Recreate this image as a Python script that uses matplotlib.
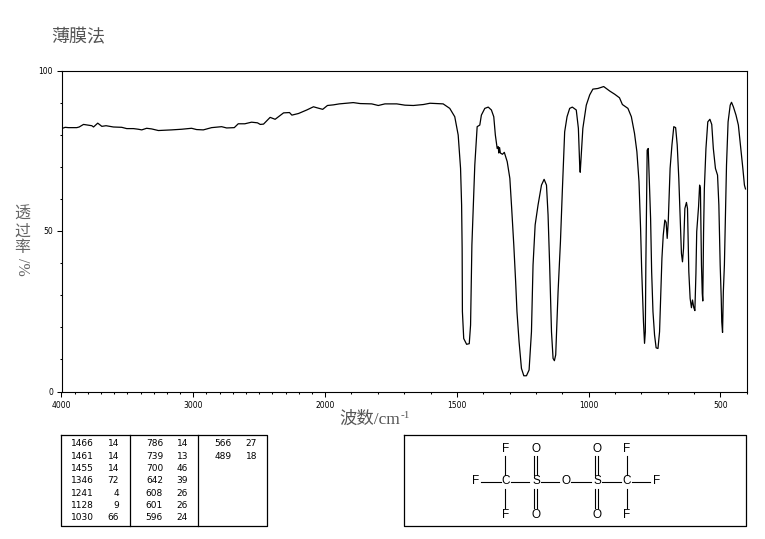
import numpy as np
import matplotlib
matplotlib.use("Agg")
import matplotlib.pyplot as plt

# =========================
# SPECTRUM (cm-1, %T)
# =========================
wavenumber = [
    4000, 3992, 3972, 3947, 3884, 3866, 3833, 3770, 3757, 3725, 3694, 3662, 3606, 3543, 3505, 3454,
    3417, 3391, 3354, 3316, 3265, 3215, 3164, 3088, 3013, 2975, 2924, 2861, 2785, 2747, 2689, 2659,
    2609, 2558, 2513, 2492, 2467, 2417, 2379, 2315, 2270, 2252, 2202, 2139, 2088, 2063, 2018, 1991,
    1968, 1946, 1893, 1867, 1823, 1798, 1773, 1728, 1697, 1665, 1627, 1602, 1552, 1527, 1508, 1495,
    1486, 1482, 1480, 1479, 1474, 1463, 1453, 1448, 1446, 1443, 1438, 1432, 1423, 1413, 1407, 1394,
    1381, 1369, 1360, 1354, 1347, 1343, 1341, 1338, 1335, 1327, 1320, 1309, 1299, 1292, 1284, 1277,
    1272, 1264, 1255, 1246, 1236, 1226, 1217, 1211, 1203, 1192, 1179, 1169, 1160, 1154, 1148, 1141,
    1135, 1130, 1125, 1116, 1107, 1100, 1091, 1082, 1072, 1062, 1047, 1039, 1034, 1032, 1028, 1022,
    1009, 996, 984, 965, 943, 920, 901, 883, 872, 851, 838, 826, 817, 809, 803, 799,
    795, 792, 788, 785, 783, 780, 778, 774, 770, 765, 761, 756, 750, 744, 737, 731,
    727, 722, 717, 711, 706, 702, 698, 694, 691, 684, 677, 670, 664, 658, 652, 648,
    644, 640, 635, 629, 625, 620, 615, 610, 606, 601, 597, 593, 590, 583, 579, 576,
    572, 569, 567, 564, 561, 555, 548, 540, 533, 527, 519, 511, 506, 501, 497, 495,
    492, 489, 485, 481, 477, 471, 463, 458, 451, 441, 432, 424, 415, 409, 405,
]
transmittance = [
    81.9, 82.0, 82.3, 82.2, 82.2, 82.4, 83.2, 82.8, 82.4, 83.6, 82.6, 82.8, 82.4, 82.3, 81.9, 81.9,
    81.7, 81.5, 82.0, 81.8, 81.3, 81.4, 81.5, 81.7, 82.0, 81.6, 81.5, 82.2, 82.5, 82.1, 82.2, 83.4,
    83.4, 83.9, 83.7, 83.2, 83.3, 85.4, 84.8, 86.8, 86.9, 86.1, 86.6, 87.7, 88.7, 88.4, 87.9, 89.1,
    89.3, 89.6, 90.0, 89.7, 89.6, 89.1, 89.6, 89.6, 89.2, 89.1, 89.4, 89.8, 89.6, 88.2, 85.6, 79.9,
    69.5, 58.1, 44.6, 24.9, 16.5, 14.7, 14.9, 20.7, 31.1, 45.6, 57.0, 70.5, 82.5, 83.0, 86.1, 88.2,
    88.6, 87.7, 85.6, 79.9, 75.7, 76.3, 74.3, 76.0, 74.3, 73.9, 74.5, 71.6, 66.4, 57.0, 45.6, 34.2,
    24.9, 15.5, 7.2, 4.9, 4.9, 6.7, 18.6, 39.4, 51.9, 58.1, 64.3, 66.1, 64.3, 55.0, 39.4, 18.6,
    10.3, 9.6, 11.4, 31.1, 46.7, 62.2, 80.9, 85.6, 88.2, 88.6, 87.7, 82.0, 70.5, 68.3, 73.7, 82.0,
    89.2, 92.4, 94.2, 94.4, 95.0, 93.6, 92.6, 91.5, 89.4, 88.2, 85.6, 80.4, 74.7, 65.4, 50.8, 38.4,
    29.0, 21.7, 15.0, 18.6, 39.4, 60.2, 75.2, 75.7, 65.9, 53.9, 37.3, 24.9, 17.6, 13.6, 13.4, 18.6,
    29.0, 41.5, 48.7, 53.4, 52.7, 47.7, 52.9, 62.2, 69.5, 76.8, 82.5, 82.2, 76.8, 66.4, 51.9, 43.0,
    40.4, 44.6, 57.0, 58.9, 57.0, 37.3, 29.0, 26.1, 28.5, 26.1, 25.2, 36.8, 49.8, 57.6, 64.3, 63.3,
    39.4, 30.6, 28.2, 49.8, 63.3, 75.7, 84.0, 84.8, 83.2, 75.7, 69.5, 67.4, 58.1, 39.4, 29.0, 21.7,
    18.4, 31.1, 39.4, 55.0, 70.5, 84.0, 89.2, 90.1, 88.7, 86.1, 83.0, 76.8, 69.5, 64.3, 63.1,
]

# =========================
# PEAK TABLE
# =========================
peak_columns = [
    [("1466", "14"), ("1461", "14"), ("1455", "14"), ("1346", "72"), ("1241", "4"), ("1128", "9"), ("1030", "66")],
    [("786", "14"), ("739", "13"), ("700", "46"), ("642", "39"), ("608", "26"), ("601", "26"), ("596", "24")],
    [("566", "27"), ("489", "18")],
]
x_major = [4000, 3000, 2000, 1500, 1000, 500]
y_major = [0, 50, 100]

W, H = 765, 539
CJK = "Noto Sans CJK SC"


# axis is compressed by 2 above 2000 cm-1
def forward(w):
    w = np.asarray(w, dtype=float)
    return np.where(w > 2000, 2000 + (w - 2000) / 2, w)


def inverse(v):
    v = np.asarray(v, dtype=float)
    return np.where(v > 2000, 2000 + (v - 2000) * 2, v)


fig = plt.figure(figsize=(W / 100, H / 100), dpi=100, facecolor="white")

# =========================
# MAIN AXES
# =========================
ax = fig.add_axes([61.5 / W, 1 - 391.5 / H, 685.3 / W, 321 / H])
ax.set_xscale("function", functions=(forward, inverse))
ax.plot(wavenumber, transmittance, color="black", linewidth=0.9)
ax.set_xlim(4000, 400)
ax.set_ylim(0, 100)

ax.set_xticks(x_major)
ax.set_xticks(list(range(4000, 300, -100)), minor=True)
ax.set_yticks(y_major)
ax.set_yticks(list(range(0, 101, 10)), minor=True)
ax.tick_params(which="major", length=3.6, width=0.75, labelsize=5.5, pad=2.5)
ax.tick_params(which="minor", length=1.6, width=0.75)
ax.tick_params(axis="x", which="major", pad=3.5)
for s in ax.spines.values():
    s.set_linewidth(0.8)

# =========================
# OVERLAY IN PIXEL UNITS
# =========================
ov = fig.add_axes([0, 0, 1, 1], facecolor="none")
ov.set_xlim(0, W)
ov.set_ylim(H, 0)
ov.axis("off")

ov.text(51, 37, "薄膜法", family=CJK, fontsize=13, color="#555555", va="center", ha="left")

# y label, characters stacked upright
ov.text(22, 231, "透\n过\n率", family=CJK, fontsize=11.5, color="#666666",
        va="center", ha="center", linespacing=0.95)
ov.text(22, 267, "/%", family="Liberation Serif", fontsize=11.5, color="#666666",
        rotation=-90, va="center", ha="center")

# x label
ov.text(339, 420, "波数/cm", family=["Liberation Serif", CJK], fontsize=12.5, color="#555555",
        va="center", ha="left")
ov.text(401, 415, "-1", family="Liberation Serif", fontsize=8, color="#555555", va="center", ha="left")

# peak table
ov.plot([61.5, 267.5, 267.5, 61.5, 61.5], [434.5, 434.5, 526, 526, 434.5], color="black", lw=0.9)
for x in [130.5, 198.5]:
    ov.plot([x, x], [434.5, 526], color="black", lw=0.9)
col_right = [(94, 119), (163, 188), (232, 257)]
row_y = np.linspace(443.7, 517.7, 7)
for col, (r1, r2) in zip(peak_columns, col_right):
    for (wn, t), y in zip(col, row_y):
        ov.text(r1, y, wn, fontsize=6.5, ha="right", va="center")
        ov.text(r2, y, t, fontsize=6.5, ha="right", va="center")

# structure box
ov.plot([404.5, 746.5, 746.5, 404.5, 404.5], [434.5, 434.5, 526, 526, 434.5], color="black", lw=0.9)
atom_font = dict(family="Liberation Sans", fontsize=8.5, ha="center", va="center")
top, mid, bot = 448.5, 481.5, 514.5
for x, s in [(476, "F"), (505.5, "C"), (536, "S"), (566.5, "O"), (597, "S"), (627, "C"), (657, "F")]:
    ov.text(x, mid, s, **atom_font)
for x, s in [(505.5, "F"), (536, "O"), (597, "O"), (627, "F")]:
    ov.text(x, top, s, **atom_font)
    ov.text(x, bot, s, **atom_font)
for x0, x1 in [(481, 501.5), (511, 529.5), (541, 559.5), (571.5, 591.5), (602, 621.5), (632, 650)]:
    ov.plot([x0, x1], [mid, mid], color="black", lw=0.8)
for x in [505.5, 627]:
    ov.plot([x, x], [455.5, 475], color="black", lw=0.8)
    ov.plot([x, x], [488.5, 508], color="black", lw=0.8)
for x in [536, 597]:
    for dx in [-1.5, 1.5]:
        ov.plot([x + dx, x + dx], [455.5, 475], color="black", lw=0.8)
        ov.plot([x + dx, x + dx], [488.5, 508], color="black", lw=0.8)

fig.savefig("out.png", dpi=100)
